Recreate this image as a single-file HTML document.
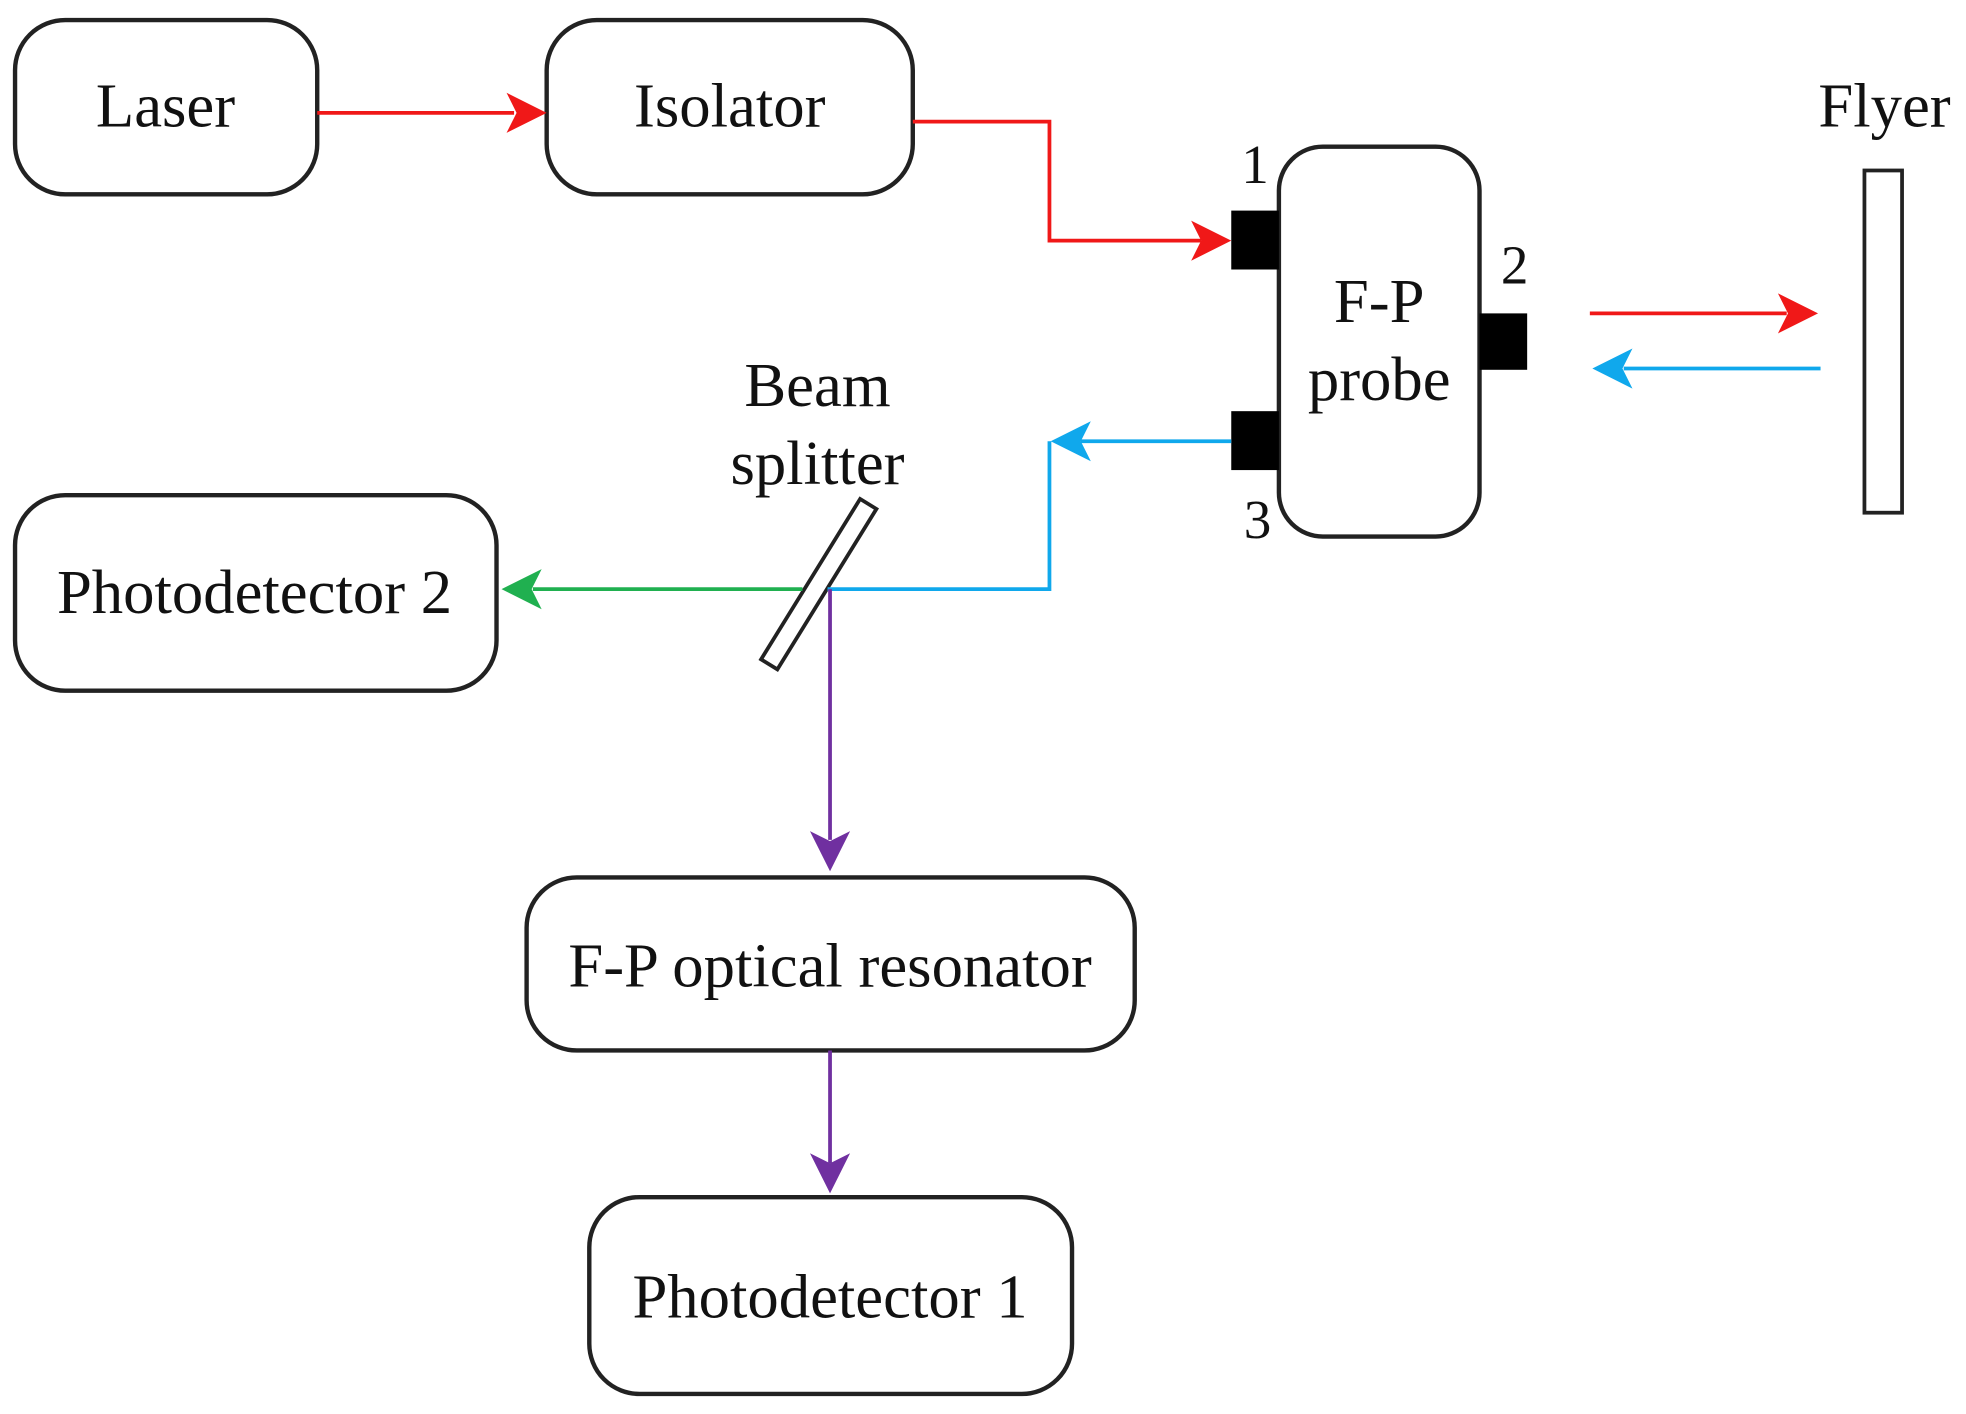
<!DOCTYPE html>
<html><head><style>html,body{margin:0;padding:0;background:#fff}svg{display:block}</style></head>
<body>
<svg width="1966" height="1414" viewBox="0 0 1568 1128" preserveAspectRatio="none" xmlns="http://www.w3.org/2000/svg" font-family="Liberation Serif, serif" font-size="50" text-anchor="middle">
<g fill="none" stroke="#222" stroke-width="3.5">
<rect x="12" y="16" width="241" height="139" rx="40"/>
<rect x="436" y="16" width="292" height="139" rx="40"/>
<rect x="1020" y="117" width="160" height="311" rx="35"/>
<rect x="12" y="395" width="384" height="156" rx="40"/>
<rect x="420" y="700" width="485" height="138" rx="40"/>
<rect x="470" y="955" width="385" height="157" rx="40"/>
<rect x="1487" y="136" width="30" height="273" stroke-width="3"/>
<polygon points="607,526 686,398 699,406 620,534" stroke-width="3"/>
</g>
<rect x="982" y="168" width="38" height="47" fill="#000"/>
<rect x="982" y="328" width="38" height="47" fill="#000"/>
<rect x="1180" y="250" width="38" height="45" fill="#000"/>
<g fill="none" stroke-width="3">
<path d="M253 90H410" stroke="#f01818"/>
<path d="M728 97H837V192H958" stroke="#f01818"/>
<path d="M1268 250H1425" stroke="#f01818"/>
<path d="M1452 294H1295" stroke="#10a8ec"/>
<path d="M982 352H862M837 352V470H660" stroke="#10a8ec"/>
<path d="M640 470H425" stroke="#20b050"/>
<path d="M662 470V670M662 838V928" stroke="#7030a0"/>
</g>
<g>
<polygon points="404,74 436,90 404,106 412,90" fill="#f01818"/>
<polygon points="950,176 982,192 950,208 958,192" fill="#f01818"/>
<polygon points="1418,234 1450,250 1418,266 1426,250" fill="#f01818"/>
<polygon points="1302,278 1270,294 1302,310 1294,294" fill="#10a8ec"/>
<polygon points="870,336 838,352 870,368 862,352" fill="#10a8ec"/>
<polygon points="432,454 400,470 432,486 424,470" fill="#20b050"/>
<polygon points="646,663 662,695 678,663 662,671" fill="#7030a0"/>
<polygon points="646,920 662,952 678,920 662,928" fill="#7030a0"/>
</g>
<g fill="#111">
<text x="132" y="101">Laser</text>
<text x="582" y="101">Isolator</text>
<text x="1100" y="257">F-P</text>
<text x="1100" y="319">probe</text>
<text x="1503" y="101">Flyer</text>
<text x="1001" y="146" font-size="44">1</text>
<text x="1208" y="226" font-size="44">2</text>
<text x="1003" y="429" font-size="44">3</text>
<text x="652" y="324">Beam</text>
<text x="652" y="386">splitter</text>
<text x="203" y="489">Photodetector 2</text>
<text x="662" y="787">F-P optical resonator</text>
<text x="662" y="1051">Photodetector 1</text>
</g>
</svg>
</body></html>
